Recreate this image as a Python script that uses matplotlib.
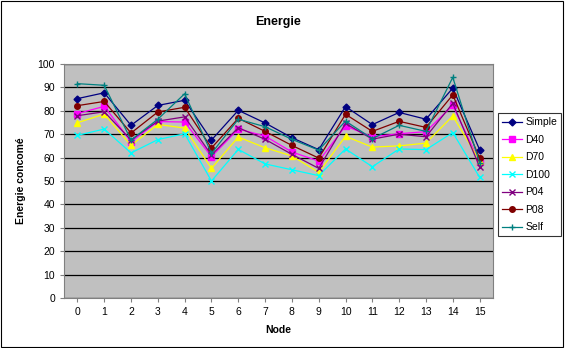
import matplotlib.pyplot as plt
import numpy as np

plt.rcParams['font.family'] = ['Liberation Sans', 'DejaVu Sans']

nodes = list(range(16))
simple = [85.2, 87.7, 73.8, 82.3, 84.5, 67.5, 80.2, 74.8, 68.5, 63.4, 81.8, 74.1, 79.3, 76.4, 89.7, 63.4]
d40 = [78.8, 81.9, 66.8, 75.4, 75.2, 60.4, 72.2, 69.2, 62.4, 58.5, 73.5, 68.9, 70.2, 71.1, 82.3, 58.2]
d70 = [74.9, 78.6, 65.2, 74.2, 72.6, 55.4, 68.8, 64.2, 60.7, 53.7, 69.1, 64.5, 65.0, 66.2, 77.8, 58.7]
d100 = [69.5, 72.2, 62.0, 67.7, 70.2, 50.0, 63.5, 57.3, 54.8, 52.3, 63.7, 56.1, 63.7, 63.4, 70.7, 51.6]
p04 = [77.9, 79.6, 67.5, 75.6, 77.4, 61.1, 72.8, 67.8, 61.4, 55.4, 74.6, 67.9, 70.0, 68.9, 83.2, 56.1]
p08 = [82.2, 84.0, 70.5, 79.5, 81.5, 64.1, 76.8, 71.2, 65.2, 59.8, 78.5, 71.2, 75.5, 72.9, 86.8, 59.8]
self_ = [91.6, 90.9, 67.5, 76.4, 87.3, 61.8, 76.4, 73.2, 67.8, 63.2, 75.6, 68.1, 73.8, 71.2, 94.3, 57.8]

series = [
    ("Simple", simple, "#000080", "D", 3.5),
    ("D40", d40, "#FF00FF", "s", 4),
    ("D70", d70, "#FFFF00", "^", 5),
    ("D100", d100, "#00FFFF", "x", 4),
    ("P04", p04, "#800080", "x", 4),
    ("P08", p08, "#800000", "o", 4),
    ("Self", self_, "#008080", "+", 5),
]

fig = plt.figure(figsize=(5.65, 3.48), dpi=100)
ax = fig.add_axes([64 / 565, 50 / 348, 429 / 565, 234 / 348])
ax.set_facecolor("#C0C0C0")

for name, vals, col, mk, ms in series:
    ax.plot(nodes, vals, color=col, marker=mk, markersize=ms, linewidth=0.9,
            markeredgewidth=1, label=name)

ax.set_xlim(-0.5, 15.5)
ax.set_ylim(0, 100)
ax.set_yticks(range(0, 101, 10))
ax.set_xticks(nodes)
ax.yaxis.grid(True, color="black", linewidth=0.9)
ax.set_axisbelow(True)
ax.tick_params(labelsize=7.5, length=3, color="#808080")
for s in ax.spines.values():
    s.set_color("#808080")

ax.set_title("Energie", fontsize=9, fontweight="bold", pad=28)
ax.set_xlabel("Node", fontsize=7.5, fontweight="bold", labelpad=6)
ax.set_ylabel("Energie concomé", fontsize=7.5, fontweight="bold", labelpad=8)

leg = ax.legend(loc="upper left", bbox_to_anchor=(1.012, 0.79), fontsize=7.5,
                frameon=True, fancybox=False, edgecolor="black",
                borderpad=0.4, labelspacing=0.72, handlelength=1.9,
                handletextpad=0.3, borderaxespad=0)
leg.get_frame().set_linewidth(0.8)

fig.patches.append(plt.Rectangle((0.002, 0.003), 0.995, 0.994, transform=fig.transFigure,
                                 fill=False, edgecolor="black", linewidth=0.8))
fig.savefig("out.png", dpi=100)
